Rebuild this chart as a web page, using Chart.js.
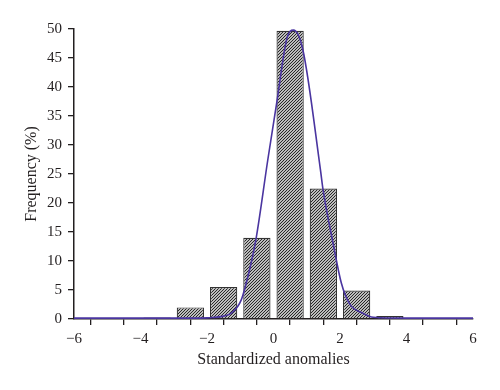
<!DOCTYPE html>
<html>
<head>
<meta charset="utf-8">
<script src="https://cdn.jsdelivr.net/npm/chart.js@4/dist/chart.umd.min.js"></script>
<style>
  html, body { margin: 0; padding: 0; background: #fff; }
  #wrap { width: 500px; height: 390px; }
</style>
</head>
<body>
<div id="wrap"><canvas id="c" width="500" height="390"></canvas></div>
<script>
// Histogram bins (centers) and frequency (%)
const binCenters = [-3.5, -2.5, -1.5, -0.5, 0.5, 1.5, 2.5, 3.5];
const binFreq    = [0.25, 2.0, 5.5, 14.0, 49.7, 22.5, 4.9, 0.5];

// Fitted curve points
const curveX = [-6, -4, -3, -2, -1.84, -1.5, -1.27, -0.97, -0.72, -0.52, -0.17, 0.1, 0.4, 0.6, 0.88, 1.41, 1.49, 1.79, 2.04, 2.29, 2.69, 3.0, 4, 6];
const curveY = [0.15, 0.15, 0.15, 0.2, 0.25, 0.5, 1.0, 3.3, 8.5, 14.0, 27.5, 37.4, 48.3, 49.8, 46.5, 25.8, 22.3, 13.1, 6.2, 2.6, 1.0, 0.3, 0.15, 0.15];

const xTicks = [-6, -4, -2, 0, 2, 4, 6];
const yTicks = [0, 5, 10, 15, 20, 25, 30, 35, 40, 45, 50];

function makeHatch() {
  const s = 3;
  const p = document.createElement('canvas');
  p.width = s; p.height = s;
  const g = p.getContext('2d');
  g.fillStyle = '#ffffff';
  g.fillRect(0, 0, s, s);
  g.strokeStyle = '#202020';
  g.lineWidth = 1.15;
  g.beginPath();
  g.moveTo(-1, s + 1); g.lineTo(s + 1, -1);
  g.moveTo(-1, 1); g.lineTo(1, -1);
  g.moveTo(s - 1, s + 1); g.lineTo(s + 1, s - 1);
  g.stroke();
  return document.getElementById('c').getContext('2d').createPattern(p, 'repeat');
}

const textColor = '#231f20';
const fontFam = "'Liberation Serif', 'DejaVu Serif', serif";
const fmt = v => (v < 0 ? '\u2212' + Math.abs(v) : String(v));

new Chart(document.getElementById('c'), {
  type: 'bar',
  data: {
    datasets: [
      {
        type: 'line',
        data: curveX.map((x, i) => ({ x: x, y: curveY[i] })),
        borderColor: '#4a35a0',
        borderWidth: 1.6,
        pointRadius: 0,
        fill: false,
        cubicInterpolationMode: 'monotone',
        order: 0
      },
      {
        type: 'bar',
        data: binCenters.map((x, i) => ({ x: x, y: binFreq[i] })),
        backgroundColor: makeHatch(),
        borderColor: '#333333',
        borderWidth: 1.2,
        barPercentage: 0.82,
        categoryPercentage: 1.0,
        order: 1
      }
    ]
  },
  options: {
    responsive: false,
    animation: false,
    layout: { padding: { top: 29, right: 27, left: 0, bottom: 0 } },
    plugins: { legend: { display: false }, tooltip: { enabled: false } },
    scales: {
      x: {
        type: 'linear',
        offset: false,
        min: -6, max: 6,
        ticks: {
          stepSize: 1,
          autoSkip: false,
          maxRotation: 0,
          color: textColor,
          font: { family: fontFam, size: 15 },
          padding: 5,
          callback: v => (xTicks.includes(v) ? fmt(v) : '')
        },
        grid: { drawOnChartArea: false, drawTicks: true, tickLength: 6, color: textColor, lineWidth: 1.3 },
        border: { display: true, color: textColor, width: 1.5 },
        title: { display: true, text: 'Standardized anomalies', color: textColor, font: { family: fontFam, size: 16 }, padding: { top: 0, bottom: 21 } },
        afterFit: s => { s.height = 71; }
      },
      y: {
        min: 0, max: 50,
        afterBuildTicks: s => { s.ticks = yTicks.map(v => ({ value: v })); },
        ticks: {
          color: textColor,
          font: { family: fontFam, size: 15 },
          padding: 6,
          callback: v => fmt(v)
        },
        grid: { drawOnChartArea: false, drawTicks: true, tickLength: 6, color: textColor, lineWidth: 1.3 },
        border: { display: true, color: textColor, width: 1.5 },
        title: { display: true, text: 'Frequency (%)', color: textColor, font: { family: fontFam, size: 16 }, padding: { top: 22, bottom: 0 } },
        afterFit: s => { s.width = 74; }
      }
    }
  }
});
</script>
</body>
</html>
